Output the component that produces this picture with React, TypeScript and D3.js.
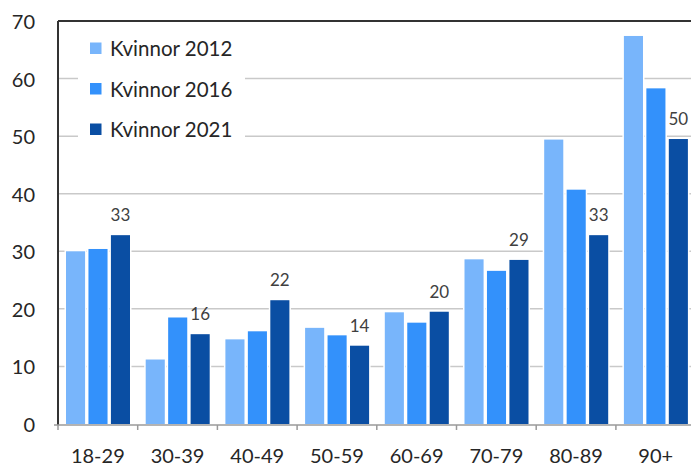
import React from "react";
import * as d3 from "d3";

const categories = ["18-29", "30-39", "40-49", "50-59", "60-69", "70-79", "80-89", "90+"];
const seriesNames = ["Kvinnor 2012", "Kvinnor 2016", "Kvinnor 2021"];
const values2012 = [30, 11.2, 14.7, 16.7, 19.4, 28.6, 49.4, 67.4];
const values2016 = [30.4, 18.5, 16.1, 15.4, 17.6, 26.6, 40.7, 58.3];
const values2021 = [32.8, 15.6, 21.5, 13.6, 19.5, 28.5, 32.8, 49.5];
const colors = ["#78b5fb", "#3391fb", "#0a4ea3"];
const yTicks = [0, 10, 20, 30, 40, 50, 60, 70];

const W = 691;
const H = 470;
const font = "Lato, 'Open Sans', sans-serif";

export default function App() {
  const left = 58;
  const top = 21;
  const bottom = 424;
  const step = 79.7;

  const x0 = d3
    .scaleBand<string>()
    .domain(categories)
    .range([left, left + step * categories.length])
    .padding(0);
  const x1 = d3.scaleBand<string>().domain(seriesNames).range([8, 72]).paddingInner(0.15);
  const y = d3.scaleLinear().domain([0, 70]).range([bottom, top]);

  const all = [values2012, values2016, values2021];

  return (
    <div style={{ position: "fixed", left: 0, top: 0 }}>
      <svg width={W} height={H} style={{ display: "block", background: "#fff" }}>
        {/* gridlines */}
        {yTicks.slice(1, -1).map((t) => (
          <line key={t} x1={left} x2={W} y1={y(t)} y2={y(t)} stroke="#c9c9c9" strokeWidth={1.5} />
        ))}

        {/* bars */}
        {categories.map((c, ci) => (
          <g key={c} transform={`translate(${x0(c)},0)`}>
            {seriesNames.map((s, si) => {
              const v = all[si][ci];
              return (
                <rect
                  key={s}
                  x={x1(s)}
                  y={y(v)}
                  width={x1.bandwidth()}
                  height={bottom - y(v)}
                  fill={colors[si]}
                  stroke="#fff"
                  strokeWidth={3}
                  style={{ paintOrder: "stroke" }}
                />
              );
            })}
            <text
              x={(x1(seriesNames[2]) as number) + x1.bandwidth() / 2}
              y={y(values2021[ci]) - 14}
              textAnchor="middle"
              fontFamily={font}
              fontSize={17}
              fill="#404040"
            >
              {Math.round(values2021[ci])}
            </text>
          </g>
        ))}

        {/* legend */}
        <rect x={78} y={30} width={167} height={115} fill="#fff" />
        {seriesNames.map((s, i) => (
          <g key={s} transform={`translate(90,${48 + i * 40.5})`}>
            <rect x={0} y={-5.5} width={11.5} height={11.5} fill={colors[i]} />
            <text x={20} y={0} dominantBaseline="central" fontFamily={font} fontSize={20.5} fill="#262626">
              {s}
            </text>
          </g>
        ))}

        {/* frame */}
        <line x1={left} x2={W} y1={top} y2={top} stroke="#333" strokeWidth={2} />
        <line x1={left} x2={left} y1={top} y2={bottom + 1} stroke="#333" strokeWidth={2} />
        <line x1={left - 4} x2={W} y1={bottom + 1} y2={bottom + 1} stroke="#9a9a9a" strokeWidth={1.5} />
        {categories.map((c) => (
          <line
            key={c}
            x1={x0(c)}
            x2={x0(c)}
            y1={bottom + 1}
            y2={bottom + 6}
            stroke="#9a9a9a"
            strokeWidth={1.5}
          />
        ))}

        {/* y tick labels */}
        {yTicks.map((t) => (
          <text
            key={t}
            x={35}
            y={y(t)}
            textAnchor="end"
            dominantBaseline="central"
            fontFamily={font}
            fontSize={20}
            fill="#262626"
          >
            {t}
          </text>
        ))}

        {/* x labels */}
        {categories.map((c) => (
          <text
            key={c}
            x={(x0(c) as number) + step / 2}
            y={463}
            textAnchor="middle"
            fontFamily={font}
            fontSize={20}
            fill="#262626"
          >
            {c}
          </text>
        ))}
      </svg>
    </div>
  );
}
